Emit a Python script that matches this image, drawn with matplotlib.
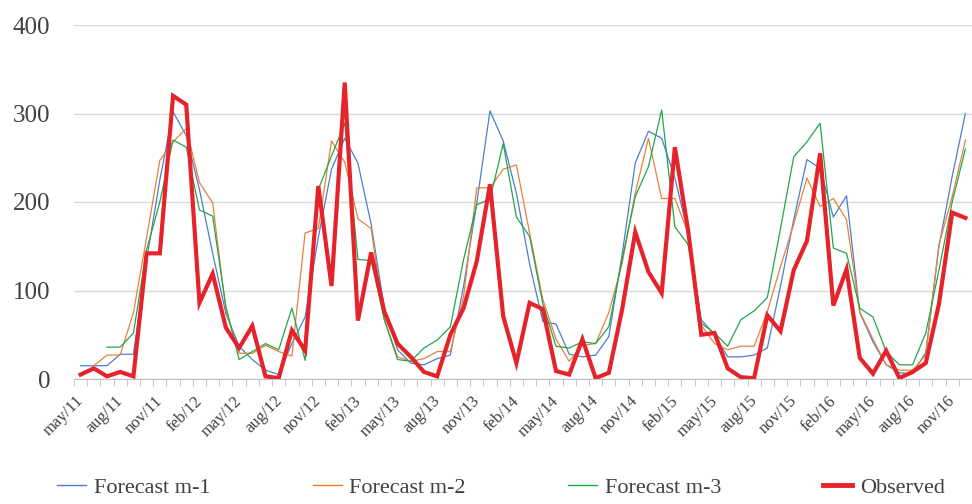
import numpy as np
import matplotlib.pyplot as plt
import matplotlib.transforms as mtransforms
from matplotlib.lines import Line2D

# monthly series, may/11 .. dec/16
months = ["may", "jun", "jul", "aug", "sep", "oct", "nov", "dec", "jan", "feb", "mar", "apr"]
start_year = 11
n_months = 68

observed = [5, 12, 3, 8, 3, 142, 142, 320, 310, 86, 119, 58, 35, 60, 3, 1, 55, 32, 218, 105,
            335, 66, 143, 76, 40, 25, 8, 3, 50, 80, 133, 220, 71, 18, 86, 79, 9, 5, 45, 1,
            7, 78, 166, 121, 97, 262, 168, 50, 52, 12, 2, 1, 72, 54, 123, 156, 255, 83, 124, 24,
            6, 32, 1, 8, 18, 85, 188, 182]

forecast_m1 = [15, 15, 15, 28, 28, 135, 225, 302, 275, 214, 142, 74, 37, 22, 10, 5, 40, 70, 160, 237,
               272, 244, 175, 80, 33, 18, 16, 23, 27, 105, 199, 303, 269, 210, 130, 65, 62, 28, 25, 27,
               48, 140, 244, 280, 272, 227, 165, 67, 50, 25, 25, 27, 35, 105, 180, 248, 238, 183, 207, 75,
               42, 16, 7, 6, 30, 150, 229, 300]

forecast_m2 = [np.nan, 15, 27, 27, 75, 160, 247, 268, 283, 222, 199, 78, 29, 29, 38, 31, 26, 165, 170, 269,
               245, 181, 170, 67, 25, 20, 23, 31, 31, 93, 216, 216, 237, 242, 165, 90, 45, 20, 38, 40,
               75, 130, 210, 272, 204, 204, 165, 61, 40, 33, 37, 37, 76, 127, 175, 227, 195, 204, 180, 76,
               45, 16, 10, 10, 27, 152, 206, 270]

forecast_m3 = [np.nan, np.nan, 36, 36, 52, 146, 200, 270, 262, 191, 184, 82, 22, 31, 40, 33, 80, 21, 214, 252,
               289, 135, 134, 67, 22, 20, 35, 44, 59, 135, 197, 203, 266, 183, 161, 85, 37, 35, 42, 40,
               59, 135, 206, 240, 304, 172, 152, 63, 52, 37, 67, 77, 92, 170, 251, 268, 289, 148, 142, 80,
               70, 31, 16, 16, 52, 123, 200, 260]

labels = []
for i in range(n_months):
    y = start_year + (i + 4) // 12
    labels.append(months[i % 12] + "/" + str(y))

x = np.arange(n_months)

plt.rcParams['font.family'] = ['Liberation Serif', 'DejaVu Serif']

fig = plt.figure(figsize=(9.72, 5.04), dpi=100)
ax = fig.add_axes([74 / 972, 125 / 504, 1 - 74 / 972, 354 / 504])

ax.plot(x, forecast_m1, color='#4a7fcf', lw=0.9, label='Forecast m-1')
ax.plot(x, forecast_m2, color='#e8823a', lw=0.9, label='Forecast m-2')
ax.plot(x, forecast_m3, color='#22a64a', lw=0.9, label='Forecast m-3')
ax.plot(x, observed, color='#e5232b', lw=3.0, label='Observed', solid_joinstyle='miter')

ax.set_ylim(0, 400)
ax.set_xlim(-0.25, 66.52)
ax.set_yticks([0, 100, 200, 300, 400])
ax.yaxis.grid(True, color='#d9d9d9', lw=1.0)
ax.set_axisbelow(True)

for s in ['top', 'right', 'left']:
    ax.spines[s].set_visible(False)
ax.spines['bottom'].set_color('#bfbfbf')

ax.tick_params(axis='y', length=0, pad=17, labelsize=18, labelcolor='#404040')
ax.set_xticks(x[::3])
ax.set_xticklabels(labels[::3], rotation=45, ha='right', va='top', rotation_mode='anchor',
                   fontsize=12, color='#404040')
ax.tick_params(axis='x', which='major', length=0, pad=10)
ax.set_xticks(np.arange(-0.5, n_months, 1), minor=True)
ax.tick_params(axis='x', which='minor', length=5, color='#bfbfbf')

# shift the rotated labels a little to the left, like the original
shift = mtransforms.ScaledTranslation(-5 / 100, 0, fig.dpi_scale_trans)
for lab in ax.get_xticklabels():
    lab.set_transform(lab.get_transform() + shift)

handles = [Line2D([], [], color='#4a7fcf', lw=1.0),
           Line2D([], [], color='#e8823a', lw=1.0),
           Line2D([], [], color='#22a64a', lw=1.0),
           Line2D([], [], color='#e5232b', lw=3.5)]
fig.legend(handles, ['Forecast m-1', 'Forecast m-2', 'Forecast m-3', 'Observed'],
           loc='center', bbox_to_anchor=(0.5155, 0.032), ncol=4, frameon=False,
           fontsize=16, handlelength=1.3, handletextpad=0.35, columnspacing=4.6,
           labelcolor='#404040')

fig.savefig('out.png', dpi=100)
